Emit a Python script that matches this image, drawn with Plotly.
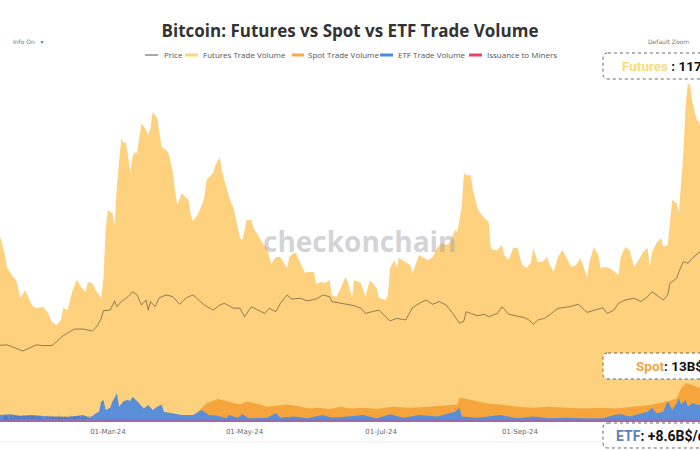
import plotly.graph_objects as go

# ---------------- data (values in billions USD / day; price in k USD) ----------------
futures_dates = [
    "2024-01-12", "2024-01-13", "2024-01-15", "2024-01-16", "2024-01-19", "2024-01-20", "2024-01-22",
    "2024-01-24", "2024-01-25", "2024-01-27", "2024-01-29", "2024-02-01", "2024-02-03", "2024-02-05",
    "2024-02-07", "2024-02-09", "2024-02-10", "2024-02-12", "2024-02-14", "2024-02-16", "2024-02-18",
    "2024-02-20", "2024-02-21", "2024-02-23", "2024-02-25", "2024-02-27", "2024-02-28", "2024-02-29",
    "2024-03-01", "2024-03-03", "2024-03-04", "2024-03-05", "2024-03-07", "2024-03-08", "2024-03-09",
    "2024-03-10", "2024-03-11", "2024-03-12", "2024-03-13", "2024-03-14", "2024-03-16", "2024-03-18",
    "2024-03-19", "2024-03-20", "2024-03-21", "2024-03-23", "2024-03-24", "2024-03-25", "2024-03-27",
    "2024-03-28", "2024-03-30", "2024-03-31", "2024-04-01", "2024-04-03", "2024-04-04", "2024-04-06",
    "2024-04-07", "2024-04-08", "2024-04-10", "2024-04-11", "2024-04-13", "2024-04-14", "2024-04-17",
    "2024-04-18", "2024-04-20", "2024-04-21", "2024-04-23", "2024-04-25", "2024-04-26", "2024-04-27",
    "2024-04-29", "2024-04-30", "2024-05-02", "2024-05-04", "2024-05-05", "2024-05-07", "2024-05-09",
    "2024-05-11", "2024-05-12", "2024-05-13", "2024-05-15", "2024-05-17", "2024-05-20", "2024-05-21",
    "2024-05-23", "2024-05-24", "2024-05-26", "2024-05-28", "2024-05-29", "2024-06-01", "2024-06-02",
    "2024-06-04", "2024-06-06", "2024-06-08", "2024-06-09", "2024-06-11", "2024-06-13", "2024-06-15",
    "2024-06-16", "2024-06-18", "2024-06-19", "2024-06-21", "2024-06-22", "2024-06-24", "2024-06-26",
    "2024-06-27", "2024-06-29", "2024-06-30", "2024-07-03", "2024-07-04", "2024-07-05", "2024-07-07",
    "2024-07-08", "2024-07-09", "2024-07-12", "2024-07-14", "2024-07-15", "2024-07-17", "2024-07-18",
    "2024-07-20", "2024-07-22", "2024-07-24", "2024-07-26", "2024-07-28", "2024-07-30", "2024-08-01",
    "2024-08-03", "2024-08-04", "2024-08-06", "2024-08-07", "2024-08-08", "2024-08-10", "2024-08-11",
    "2024-08-13", "2024-08-14", "2024-08-16", "2024-08-18", "2024-08-19", "2024-08-20", "2024-08-22",
    "2024-08-24", "2024-08-25", "2024-08-27", "2024-08-29", "2024-08-31", "2024-09-02", "2024-09-04",
    "2024-09-06", "2024-09-07", "2024-09-09", "2024-09-11", "2024-09-13", "2024-09-14", "2024-09-16",
    "2024-09-18", "2024-09-20", "2024-09-22", "2024-09-24", "2024-09-26", "2024-09-28", "2024-10-01",
    "2024-10-02", "2024-10-04", "2024-10-06", "2024-10-07", "2024-10-09", "2024-10-11", "2024-10-13",
    "2024-10-15", "2024-10-16", "2024-10-18", "2024-10-20", "2024-10-22", "2024-10-24", "2024-10-26",
    "2024-10-28", "2024-10-29", "2024-10-30", "2024-11-01", "2024-11-03", "2024-11-04", "2024-11-06",
    "2024-11-07", "2024-11-08", "2024-11-10", "2024-11-11", "2024-11-13", "2024-11-14", "2024-11-15",
    "2024-11-16", "2024-11-17", "2024-11-19", "2024-11-20", "2024-11-21",
]
futures_vals = [
    80.0, 78.4, 71.2, 65.6, 61.4, 60.5, 52.8,
    56.2, 54.1, 49.9, 48.6, 49.0, 46.9, 42.6,
    41.3, 43.5, 48.6, 47.7, 55.4, 60.5, 57.5,
    55.4, 59.7, 59.2, 55.4, 52.8, 61.4, 82.7,
    90.3, 89.1, 83.9, 101.0, 121.0, 118.9, 119.3,
    112.5, 106.5, 112.9, 115.0, 114.6, 127.4, 124.4,
    122.3, 125.3, 132.1, 129.5, 123.6, 117.2, 115.9,
    114.6, 106.5, 98.0, 92.5, 97.6, 96.3, 94.6,
    88.2, 85.6, 88.2, 90.3, 95.4, 103.1, 106.1,
    109.5, 112.9, 106.5, 99.7, 93.3, 91.6, 86.9,
    78.4, 77.6, 86.1, 86.1, 82.7, 79.7, 76.3,
    74.1, 71.2, 67.3, 70.3, 70.3, 65.6, 70.3,
    72.0, 72.0, 67.7, 63.5, 63.9, 63.9, 58.8,
    59.7, 59.2, 60.5, 54.1, 53.3, 57.1, 61.8,
    60.1, 53.3, 60.5, 59.7, 59.2, 53.3, 60.5,
    59.2, 57.1, 52.8, 52.0, 54.1, 65.6, 69.0,
    66.0, 69.9, 68.2, 66.9, 63.5, 68.2, 71.2,
    69.9, 69.0, 70.3, 74.1, 76.3, 75.4, 76.7,
    81.8, 81.0, 91.6, 106.1, 105.2, 105.2, 98.9,
    91.2, 89.5, 86.9, 85.2, 74.1, 73.3, 73.3,
    75.4, 71.2, 69.0, 74.1, 74.1, 66.9, 65.6,
    68.2, 74.1, 68.2, 68.2, 70.3, 67.7, 63.9,
    70.3, 73.3, 69.9, 66.0, 66.9, 69.9, 61.8,
    68.2, 74.6, 71.2, 65.6, 66.0, 65.6, 63.9,
    62.6, 70.3, 74.6, 73.3, 66.0, 69.0, 72.4,
    74.1, 66.0, 72.4, 76.3, 78.4, 74.6, 75.4,
    86.9, 94.6, 93.3, 89.5, 115.0, 135.1, 144.4,
    143.6, 136.4, 128.7, 127.8, 124.0,
]

spot_dates = [
    "2024-04-10", "2024-04-11", "2024-04-14", "2024-04-19", "2024-04-23", "2024-04-29", "2024-05-02",
    "2024-05-08", "2024-05-11", "2024-05-16", "2024-05-20", "2024-05-24", "2024-05-30", "2024-06-03",
    "2024-06-08", "2024-06-13", "2024-06-17", "2024-06-23", "2024-06-29", "2024-07-06", "2024-07-14",
    "2024-07-22", "2024-07-29", "2024-08-04", "2024-08-05", "2024-08-08", "2024-08-13", "2024-08-17",
    "2024-08-23", "2024-08-31", "2024-09-07", "2024-09-14", "2024-09-22", "2024-09-29", "2024-10-08",
    "2024-10-14", "2024-10-21", "2024-10-29", "2024-11-06", "2024-11-10", "2024-11-12", "2024-11-14",
    "2024-11-17", "2024-11-20", "2024-11-21",
]
spot_vals = [
    4.0, 5.1, 8.0, 9.8, 8.9, 7.5, 8.7,
    7.5, 6.5, 6.9, 7.5, 6.9, 5.8, 6.1,
    5.5, 6.5, 5.7, 6.1, 5.5, 6.5, 6.1,
    6.5, 6.9, 7.5, 10.4, 9.8, 8.9, 8.0,
    7.5, 6.5, 6.1, 6.5, 6.1, 5.8, 6.1,
    5.8, 6.5, 7.2, 8.7, 10.1, 14.4, 16.5,
    15.8, 14.6, 14.3,
]

etf_dates = [
    "2024-01-11", "2024-01-13", "2024-01-17", "2024-01-22", "2024-01-27", "2024-02-04", "2024-02-12",
    "2024-02-19", "2024-02-22", "2024-02-24", "2024-02-26", "2024-02-27", "2024-02-28", "2024-02-29",
    "2024-03-02", "2024-03-03", "2024-03-05", "2024-03-06", "2024-03-08", "2024-03-10", "2024-03-11",
    "2024-03-12", "2024-03-14", "2024-03-15", "2024-03-17", "2024-03-19", "2024-03-21", "2024-03-23",
    "2024-03-25", "2024-03-26", "2024-03-30", "2024-04-03", "2024-04-08", "2024-04-11", "2024-04-12",
    "2024-04-15", "2024-04-19", "2024-04-23", "2024-04-24", "2024-04-28", "2024-04-30", "2024-05-03",
    "2024-05-11", "2024-05-15", "2024-05-17", "2024-05-23", "2024-05-29", "2024-06-05", "2024-06-09",
    "2024-06-16", "2024-06-23", "2024-06-29", "2024-07-05", "2024-07-11", "2024-07-18", "2024-07-26",
    "2024-08-01", "2024-08-03", "2024-08-05", "2024-08-06", "2024-08-13", "2024-08-23", "2024-08-31",
    "2024-09-07", "2024-09-14", "2024-09-22", "2024-09-29", "2024-10-08", "2024-10-13", "2024-10-16",
    "2024-10-20", "2024-10-25", "2024-10-28", "2024-10-30", "2024-11-01", "2024-11-04", "2024-11-06",
    "2024-11-08", "2024-11-10", "2024-11-11", "2024-11-12", "2024-11-14", "2024-11-15", "2024-11-17",
    "2024-11-20", "2024-11-21",
]
etf_vals = [
    4.6, 3.0, 3.3, 2.7, 3.0, 2.3, 2.1,
    3.0, 1.6, 3.3, 4.4, 8.7, 9.4, 5.1,
    6.1, 8.7, 12.2, 6.5, 8.9, 9.4, 8.9,
    10.8, 8.9, 8.0, 5.8, 7.2, 5.1, 6.5,
    7.5, 4.4, 3.7, 3.0, 3.0, 4.4, 5.1,
    3.0, 2.7, 1.6, 3.0, 1.8, 3.3, 1.6,
    1.8, 3.7, 1.8, 2.3, 1.6, 3.0, 1.8,
    2.3, 3.0, 1.6, 3.3, 1.8, 3.0, 2.3,
    3.7, 4.4, 6.1, 2.3, 1.8, 3.0, 1.6,
    2.3, 1.6, 1.8, 1.6, 1.6, 3.0, 3.3,
    2.3, 3.7, 4.4, 6.1, 3.7, 4.4, 8.9,
    5.1, 8.0, 10.1, 7.5, 9.4, 6.5, 8.0,
    7.2, 7.0,
]

issuance_dates = ["2024-01-11", "2024-02-01", "2024-03-01", "2024-04-01", "2024-04-20",
                  "2024-05-01", "2024-07-01", "2024-09-01", "2024-11-01", "2024-11-21"]
issuance_vals = [0.042, 0.040, 0.060, 0.063, 0.058, 0.027, 0.027, 0.026, 0.030, 0.040]

price_dates = [
    "2024-01-12", "2024-01-13", "2024-01-16", "2024-01-19", "2024-01-23", "2024-01-25", "2024-01-29",
    "2024-02-01", "2024-02-05", "2024-02-07", "2024-02-10", "2024-02-13", "2024-02-15", "2024-02-19",
    "2024-02-23", "2024-02-25", "2024-02-27", "2024-02-28", "2024-03-02", "2024-03-04", "2024-03-05",
    "2024-03-07", "2024-03-10", "2024-03-12", "2024-03-14", "2024-03-16", "2024-03-18", "2024-03-19",
    "2024-03-20", "2024-03-22", "2024-03-24", "2024-03-27", "2024-03-30", "2024-04-02", "2024-04-05",
    "2024-04-08", "2024-04-10", "2024-04-13", "2024-04-17", "2024-04-20", "2024-04-22", "2024-04-26",
    "2024-04-29", "2024-05-01", "2024-05-04", "2024-05-07", "2024-05-10", "2024-05-12", "2024-05-15",
    "2024-05-17", "2024-05-20", "2024-05-22", "2024-05-26", "2024-05-29", "2024-06-02", "2024-06-05",
    "2024-06-08", "2024-06-09", "2024-06-13", "2024-06-16", "2024-06-19", "2024-06-22", "2024-06-24",
    "2024-06-27", "2024-06-30", "2024-07-03", "2024-07-05", "2024-07-08", "2024-07-12", "2024-07-15",
    "2024-07-18", "2024-07-21", "2024-07-24", "2024-07-27", "2024-07-30", "2024-08-02", "2024-08-05",
    "2024-08-07", "2024-08-08", "2024-08-10", "2024-08-13", "2024-08-16", "2024-08-18", "2024-08-22",
    "2024-08-24", "2024-08-27", "2024-08-30", "2024-09-03", "2024-09-05", "2024-09-07", "2024-09-09",
    "2024-09-12", "2024-09-15", "2024-09-18", "2024-09-23", "2024-09-27", "2024-10-01", "2024-10-05",
    "2024-10-08", "2024-10-10", "2024-10-13", "2024-10-15", "2024-10-18", "2024-10-22", "2024-10-25",
    "2024-10-28", "2024-10-30", "2024-11-02", "2024-11-04", "2024-11-06", "2024-11-07", "2024-11-10",
    "2024-11-11", "2024-11-13", "2024-11-15", "2024-11-17", "2024-11-20", "2024-11-21",
]
price_vals = [
    43.8, 43.6, 43.8, 42.2, 40.3, 41.5, 43.8,
    43.4, 43.4, 45.6, 49.0, 51.3, 52.8, 52.8,
    51.7, 54.2, 58.9, 63.2, 63.6, 68.8, 65.5,
    68.4, 71.2, 74.0, 72.2, 66.5, 69.3, 63.6,
    68.4, 65.5, 70.6, 72.2, 71.2, 66.9, 70.6,
    72.2, 69.9, 66.5, 63.6, 66.5, 67.4, 64.7,
    64.6, 59.8, 65.5, 63.6, 61.7, 64.6, 62.7,
    67.4, 72.2, 69.9, 70.3, 68.8, 69.9, 72.2,
    71.2, 68.4, 67.4, 66.9, 66.1, 64.6, 61.7,
    62.7, 63.6, 59.8, 57.4, 58.9, 58.0, 64.9,
    67.4, 69.3, 66.9, 68.4, 66.5, 61.7, 56.1,
    57.4, 62.7, 61.7, 60.4, 61.2, 59.8, 61.7,
    65.5, 61.2, 60.4, 59.3, 58.0, 55.5, 58.0,
    58.9, 61.7, 64.6, 65.5, 66.9, 62.3, 63.6,
    64.9, 61.7, 63.6, 67.4, 69.3, 70.3, 68.4,
    71.2, 74.0, 71.2, 69.3, 72.2, 78.8, 81.7,
    85.4, 91.1, 90.2, 93.0, 96.8, 97.5,
]

tick_dates = ["2024-03-01", "2024-05-01", "2024-07-01", "2024-09-01"]

# ---------------- styling ----------------
FUT = "#FDD17E"
SPOT = "#F6A53D"
ETF = "#5B8ED8"
ISS = "rgba(232,62,108,0.45)"
PRICE = "rgba(50,45,40,0.65)"

W, H = 700, 450
ML, MR, MT, MB = 0, 0, 70, 28
PW, PH = W - ML - MR, H - MT - MB


def px(x):
    return (x - ML) / PW


def py(y):
    return (H - MB - y) / PH


def rrect(x0, y0, x1, y1, r=5):
    pts = [
        ("M", (x0 + r, y0)), ("L", (x1 - r, y0)), ("Q", (x1, y0), (x1, y0 + r)),
        ("L", (x1, y1 - r)), ("Q", (x1, y1), (x1 - r, y1)), ("L", (x0 + r, y1)),
        ("Q", (x0, y1), (x0, y1 - r)), ("L", (x0, y0 + r)), ("Q", (x0, y0), (x0 + r, y0)),
    ]
    s = ""
    for item in pts:
        cmd = item[0]
        s += cmd + " " + " ".join(f"{px(a):.5f},{py(b):.5f}" for a, b in item[1:]) + " "
    return s + "Z"


fig = go.Figure()
fig.add_trace(go.Scatter(x=futures_dates, y=futures_vals, name="Futures Trade Volume", mode="lines",
                         line=dict(width=0, color=FUT), fill="tozeroy", fillcolor=FUT, hoverinfo="skip"))
fig.add_trace(go.Scatter(x=spot_dates, y=spot_vals, name="Spot Trade Volume", mode="lines",
                         line=dict(width=0, color=SPOT), fill="tozeroy", fillcolor=SPOT, hoverinfo="skip"))
fig.add_trace(go.Scatter(x=etf_dates, y=etf_vals, name="ETF Trade Volume", mode="lines",
                         line=dict(width=0, color=ETF), fill="tozeroy", fillcolor=ETF, hoverinfo="skip"))
fig.add_trace(go.Scatter(x=issuance_dates, y=issuance_vals, name="Issuance to Miners", mode="lines",
                         line=dict(width=5, color=ISS), hoverinfo="skip"))
fig.add_trace(go.Scatter(x=price_dates, y=price_vals, name="Price", mode="lines", yaxis="y2",
                         line=dict(width=0.8, color=PRICE), hoverinfo="skip"))

shapes = []
annotations = []

# manual legend
leg_y = py(55)
legend_items = [
    ("Price", 145, 158, 162, "#555555", 1),
    ("Futures Trade Volume", 185, 198, 201, "#FDD67F", 3),
    ("Spot Trade Volume", 292, 304, 306, "#F5A94A", 3),
    ("ETF Trade Volume", 380, 393, 396, "#4A8AE0", 3),
    ("Issuance to Miners", 469, 482, 485, "#E8436B", 3),
]
for name, a, b, t, col, w in legend_items:
    shapes.append(dict(type="line", xref="paper", yref="paper", x0=px(a), x1=px(b), y0=leg_y, y1=leg_y,
                       line=dict(color=col, width=w)))
    annotations.append(dict(text=name, xref="paper", yref="paper", x=px(t), y=leg_y, xanchor="left",
                            yanchor="middle", showarrow=False,
                            font=dict(size=8, color="#555555", family="Open Sans")))

# callout boxes
for (x0, y0, x1, y1) in [(603, 53, 760, 79), (603, 353, 760, 379), (603, 423, 760, 448)]:
    shapes.append(dict(type="path", xref="paper", yref="paper", path=rrect(x0, y0, x1, y1, 5),
                       fillcolor="white", line=dict(color="#666666", width=1, dash="dot"), layer="above"))

callouts = [
    (620, 66, "<b><span style='color:#F9DC78'>Futures</span> : 117B$/day</b>", 13.5),
    (634, 366, "<b><span style='color:#F0A545'>Spot</span>: 13B$/day</b>", 13.5),
    (614, 436, "<b><span style='color:#5E82B2'>ETF</span>: +8.6B$/day</b>", 14),
]
for x, y, t, s in callouts:
    annotations.append(dict(text=t, xref="paper", yref="paper", x=px(x), y=py(y), xanchor="left",
                            yanchor="middle", showarrow=False,
                            font=dict(size=s, color="#111111", family="Roboto")))

# watermark and small texts
annotations.append(dict(text="<b>checkonchain</b>", xref="paper", yref="paper", x=px(360), y=py(241),
                        xanchor="center", yanchor="middle", showarrow=False,
                        font=dict(size=28, color="rgba(150,150,160,0.42)", family="Open Sans")))
annotations.append(dict(text="@_Checkmatey_ checkonchain.com", xref="paper", yref="paper", x=px(1), y=py(417),
                        xanchor="left", yanchor="middle", showarrow=False,
                        font=dict(size=5, color="rgba(40,40,90,0.55)", family="DejaVu Sans")))
annotations.append(dict(text="Info On   \u25be", xref="paper", yref="paper", x=px(11), y=py(41),
                        xanchor="left", yanchor="middle", showarrow=False,
                        font=dict(size=6, color="#777777", family="DejaVu Sans")))
annotations.append(dict(text="Default Zoom", xref="paper", yref="paper", x=px(691), y=py(41),
                        xanchor="right", yanchor="middle", showarrow=False,
                        font=dict(size=6, color="#777777", family="DejaVu Sans")))

# bottom separator line
shapes.append(dict(type="line", xref="paper", yref="paper", x0=0, x1=1, y0=py(442), y1=py(442),
                   line=dict(color="#ececec", width=1), layer="below"))

fig.update_layout(
    width=W, height=H,
    margin=dict(l=ML, r=MR, t=MT, b=MB),
    paper_bgcolor="white", plot_bgcolor="white",
    showlegend=False,
    hovermode=False,
    title=dict(text="<b>Bitcoin: Futures vs Spot vs ETF Trade Volume</b>", x=0.5, xanchor="center",
               y=1 - 31 / H, yanchor="middle", yref="container",
               font=dict(size=17, color="#333333", family="Open Sans")),
    xaxis=dict(type="date", range=["2024-01-12 19:00", "2024-11-20 10:00"], showgrid=False,
               zeroline=False, showline=False, ticks="outside", ticklen=3, tickcolor="rgba(0,0,0,0)",
               tickvals=tick_dates, tickformat="%d-%b-%y",
               tickfont=dict(size=7, color="#666666", family="DejaVu Sans")),
    yaxis=dict(range=[0, 150], visible=False, showgrid=False, zeroline=False),
    yaxis2=dict(range=[0, 200], overlaying="y", visible=False, showgrid=False, zeroline=False),
    shapes=shapes,
    annotations=annotations,
)

fig.write_html("out.html", config={"displayModeBar": False},
               post_script="document.body.style.margin='0px';")
